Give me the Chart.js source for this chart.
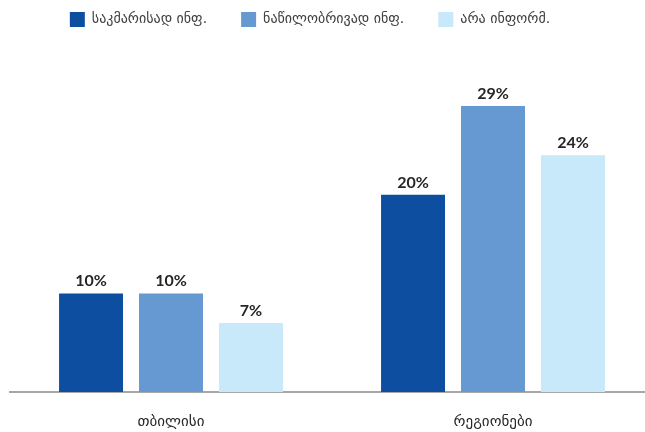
<!DOCTYPE html>
<html>
<head>
<meta charset="utf-8">
<script src="https://cdn.jsdelivr.net/npm/chart.js@4/dist/chart.umd.min.js"></script>
<style>
  html, body { margin: 0; padding: 0; background: #fff; overflow: hidden; }
  #wrap { width: 656px; height: 432px; }
</style>
</head>
<body>
<div id="wrap"><canvas id="chart"></canvas></div>
<script>
const categories = ["თბილისი", "რეგიონები"];
const seriesNames = ["საკმარისად ინფ.", "ნაწილობრივად ინფ.", "არა ინფორმ."];
const sufficient = [10, 20];
const partial = [10, 29];
const notInformed = [7, 24];
const colors = ["#0d4ea1", "#6699d1", "#c7e9f9"];

const georgian = "'DejaVu Sans', 'Noto Sans', sans-serif";

// percent labels above each bar
const barLabels = {
  id: "barLabels",
  afterDatasetsDraw(chart) {
    const ctx = chart.ctx;
    ctx.save();
    ctx.font = "bold 16px Lato, 'Open Sans', sans-serif";
    ctx.fillStyle = "#262626";
    ctx.textAlign = "center";
    ctx.textBaseline = "alphabetic";
    chart.data.datasets.forEach((ds, i) => {
      chart.getDatasetMeta(i).data.forEach((bar, j) => {
        ctx.fillText(ds.data[j] + "%", bar.x, bar.y - 7);
      });
    });
    ctx.restore();
  }
};

// nudge the legend a little to the left
const legendShift = {
  id: "legendShift",
  afterLayout(chart) {
    chart.legend.left -= 22;
    chart.legend.right -= 22;
  }
};

new Chart(document.getElementById("chart"), {
  type: "bar",
  data: {
    labels: categories,
    datasets: [
      { label: seriesNames[0], data: sufficient, backgroundColor: colors[0] },
      { label: seriesNames[1], data: partial, backgroundColor: colors[1] },
      { label: seriesNames[2], data: notInformed, backgroundColor: colors[2] }
    ]
  },
  options: {
    responsive: true,
    maintainAspectRatio: false,
    animation: false,
    categoryPercentage: 0.745,
    barPercentage: 0.8,
    layout: { padding: { left: 10, right: 2, top: -22, bottom: -12 } },
    plugins: {
      legend: {
        position: "top",
        labels: {
          boxWidth: 15,
          boxHeight: 15,
          padding: 34,
          color: "#404040",
          font: { family: georgian, size: 14 }
        }
      },
      tooltip: { enabled: false }
    },
    scales: {
      x: {
        grid: { display: false },
        border: { color: "#a6a6a6", width: 2 },
        ticks: {
          color: "#262626",
          padding: 13,
          font: { family: georgian, size: 15 }
        }
      },
      y: {
        display: false,
        min: 0,
        max: 36
      }
    }
  },
  plugins: [barLabels, legendShift]
});
</script>
</body>
</html>
